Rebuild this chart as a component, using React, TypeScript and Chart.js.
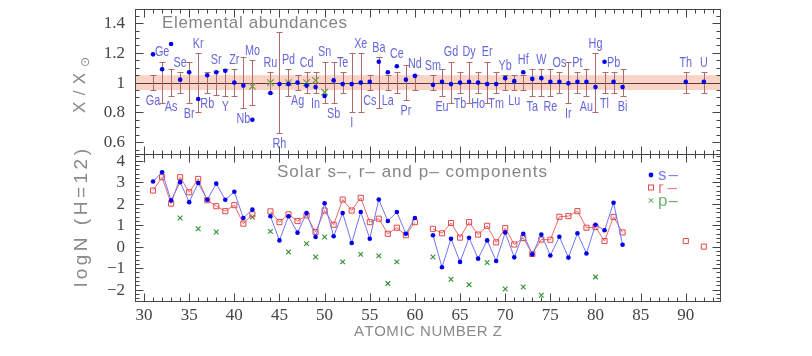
import React, { useEffect, useRef } from 'react';
import { Chart, registerables } from 'chart.js';

Chart.register(...registerables);

// ---------- Top panel: elemental abundances (X / X_sun) ----------
const ELEMENTS = ['Ga','Ge','As','Se','Br','Kr','Rb','Sr','Y','Zr','Nb','Mo','Ru','Rh','Pd','Ag','Cd','In','Sn','Sb','Te','I','Xe','Cs','Ba','La','Ce','Pr','Nd','Sm','Eu','Gd','Tb','Dy','Ho','Er','Tm','Yb','Lu','Hf','Ta','W','Re','Os','Ir','Pt','Au','Hg','Tl','Pb','Bi','Th','U'];
const ELEMENT_Z = [31,32,33,34,35,36,37,38,39,40,41,42,44,45,46,47,48,49,50,51,52,53,54,55,56,57,58,59,60,62,63,64,65,66,67,68,69,70,71,72,73,74,75,76,77,78,79,80,81,82,83,90,92];
const ABUNDANCE_RATIO = [1.19,1.09,1.26,1.02,1.07,0.89,1.05,1.07,1.08,1.0,0.98,0.75,0.93,0.99,0.99,1.0,0.98,0.97,0.91,1.015,0.99,0.99,1.0,1.005,1.14,1.07,1.11,1.02,1.045,0.985,1.005,0.99,1.0,1.005,1.0,0.99,0.99,1.03,1.01,1.07,1.025,1.03,1.005,1.005,0.995,1.005,1.005,0.97,1.14,1.005,0.97,1.005,1.005];
const RATIO_ERROR = [0.05,0.14,0.09,0.07,0.14,0.2,0.07,0.08,0.09,0.09,0.17,0.15,0.07,0.34,0.09,0.05,0.07,0.07,0.14,0.14,0.07,0.2,0.2,0.05,0.17,0.05,0.07,0.12,0.05,0.05,0.09,0.14,0.07,0.14,0.07,0.14,0.07,0.05,0.05,0.05,0.09,0.09,0.09,0.07,0.14,0.07,0.09,0.2,0.07,0.07,0.09,0.07,0.07];
const LABEL_SIDE = ['b','a','b','a','b','a','b','a','b','a','b','a','a','b','a','b','a','b','a','b','a','b','a','b','a','b','a','b','a','a','b','a','b','a','b','a','b','a','b','a','b','a','b','a','b','a','b','a','b','a','b','a','a'];
const ALT_Z = [42,44,46,48,49,50];
const ALT_RATIO = [0.975,1.0,1.0,1.0,1.015,0.935];
const REFERENCE_RATIO = 1.0;
const BAND_LOW = 0.95;
const BAND_HIGH = 1.05;

// ---------- Bottom panel: solar s-, r-, p- components (logN, H=12) ----------
const PROCESS_Z = [31,32,33,34,35,36,37,38,39,40,41,42,43,44,45,46,47,48,49,50,51,52,53,54,55,56,57,58,59,60,61,62,63,64,65,66,67,68,69,70,71,72,73,74,75,76,77,78,79,80,81,82,83,84,90,91,92];
const S_PROCESS = [3.03,3.46,2.15,3.0,2.07,2.96,2.18,2.93,2.18,2.55,1.33,1.72,null,1.41,0.29,1.41,0.65,1.56,0.45,2.02,0.48,1.56,0.17,1.61,0.37,2.19,1.19,1.61,0.6,1.33,null,0.53,-0.96,0.37,-0.71,0.41,-0.56,0.29,-0.67,0.66,-0.5,0.6,-0.36,0.56,-0.41,0.46,-0.51,0.62,-0.32,1.02,0.76,2.04,0.09,null,null,null,null];
const R_PROCESS = [2.61,3.23,2.0,3.23,2.53,3.15,2.16,1.88,1.65,1.93,1.07,1.5,null,1.64,1.14,1.5,1.19,1.45,0.68,1.68,1.02,2.19,1.68,2.27,1.14,1.3,0.6,0.88,0.53,1.14,null,0.83,0.62,1.1,0.42,1.14,0.56,0.97,0.2,0.86,0.1,0.4,-0.34,0.33,0.32,1.39,1.42,1.65,0.88,0.91,0.26,1.38,0.66,null,0.26,null,0.0];
const P_Z = [34,36,38,42,44,46,48,49,50,52,54,56,57,58,62,64,66,68,70,72,74,80];
const P_PROCESS = [1.33,0.83,0.68,1.38,0.71,-0.25,0.14,-0.48,0.45,-0.71,-0.36,-0.43,-1.72,-0.71,-0.48,-1.52,-1.77,-0.74,-1.97,-1.88,-2.26,-1.41];

// ---------- Axes ----------
const X_MIN = 29.0;
const X_MAX = 93.9;
const X_TICK_LABELS = [30,35,40,45,50,55,60,65,70,75,80,85,90];
const TOP_MIN = 0.52;
const TOP_MAX = 1.495;
const TOP_TICK_LABELS = [0.6,0.8,1.0,1.2,1.4];
const BOT_MIN = -2.53;
const BOT_MAX = 4.31;
const BOT_TICK_LABELS = [-2,-1,0,1,2,3,4];

const FRAME = '#444';
const TICK_FONT = '17px "Liberation Serif", "DejaVu Serif", serif';
const TEXT_FONT = '"Liberation Sans", "DejaVu Sans", sans-serif';

function spacedText(ctx: any, text: string, x: number, y: number, target: number, font: string, color: string) {
  ctx.save();
  ctx.font = font;
  ctx.fillStyle = color;
  ctx.textBaseline = 'middle';
  ctx.textAlign = 'left';
  const chars = Array.from(text);
  const widths = chars.map((c) => ctx.measureText(c).width);
  const natural = widths.reduce((a, b) => a + b, 0);
  const extra = chars.length > 1 ? (target - natural) / (chars.length - 1) : 0;
  let cx = x;
  chars.forEach((c, i) => {
    ctx.fillText(c, cx, y);
    cx += widths[i] + extra;
  });
  ctx.restore();
}

function fmtTick(v: number) {
  if (v < 0) return '\u2212' + String(Math.abs(v));
  if (Number.isInteger(v)) return String(v);
  return v.toFixed(1);
}

const panelPlugin = {
  id: 'panels',
  beforeDatasetsDraw(chart: any) {
    const { ctx, chartArea } = chart;
    const xs = chart.scales.x;
    const yt = chart.scales.yTop;
    ctx.save();
    const yHi = yt.getPixelForValue(BAND_HIGH);
    const yLo = yt.getPixelForValue(BAND_LOW);
    ctx.fillStyle = '#f9d3c6';
    ctx.fillRect(chartArea.left, yHi, chartArea.right - chartArea.left, yLo - yHi);
    const yr = Math.round(yt.getPixelForValue(REFERENCE_RATIO)) + 0.5;
    ctx.strokeStyle = '#5a3a3a';
    ctx.lineWidth = 1;
    ctx.beginPath();
    ctx.moveTo(chartArea.left, yr);
    ctx.lineTo(chartArea.right, yr);
    ctx.stroke();
    ctx.strokeStyle = '#b06a6a';
    ELEMENT_Z.forEach((z, i) => {
      const px = Math.round(xs.getPixelForValue(z)) + 0.5;
      const t = Math.round(yt.getPixelForValue(REFERENCE_RATIO + RATIO_ERROR[i])) + 0.5;
      const b = Math.round(yt.getPixelForValue(REFERENCE_RATIO - RATIO_ERROR[i])) + 0.5;
      ctx.beginPath();
      ctx.moveTo(px, t); ctx.lineTo(px, b);
      ctx.moveTo(px - 3, t); ctx.lineTo(px + 3, t);
      ctx.moveTo(px - 3, b); ctx.lineTo(px + 3, b);
      ctx.stroke();
    });
    ctx.restore();
  },
  afterDraw(chart: any) {
    const { ctx, chartArea } = chart;
    const xs = chart.scales.x;
    const yt = chart.scales.yTop;
    const yb = chart.scales.yBot;
    const L = chartArea.left + 0.5;
    const R = chartArea.right - 0.5;
    ctx.save();

    // element labels
    ctx.save();
    ctx.font = '15px ' + TEXT_FONT;
    ctx.fillStyle = '#6666d8';
    ctx.textBaseline = 'middle';
    ctx.textAlign = 'center';
    ELEMENT_Z.forEach((z, i) => {
      const px = xs.getPixelForValue(z);
      const dot = yt.getPixelForValue(ABUNDANCE_RATIO[i]);
      let py;
      if (LABEL_SIDE[i] === 'a') {
        py = Math.min(yt.getPixelForValue(REFERENCE_RATIO + RATIO_ERROR[i]), dot - 3) - 9.5;
      } else {
        py = Math.max(yt.getPixelForValue(REFERENCE_RATIO - RATIO_ERROR[i]), dot + 3) + 10.5;
      }
      ctx.save();
      ctx.translate(px, py);
      ctx.scale(0.72, 1);
      ctx.fillText(ELEMENTS[i], 0, 0);
      ctx.restore();
    });
    ctx.restore();

    // frames
    ctx.strokeStyle = FRAME;
    ctx.lineWidth = 1;
    const panels = [yt, yb];
    panels.forEach((s) => {
      ctx.strokeRect(L, Math.round(s.top) + 0.5, R - L, Math.round(s.bottom) - Math.round(s.top));
    });

    // x ticks on both edges of both panels
    panels.forEach((s) => {
      const top = Math.round(s.top) + 0.5;
      const bot = Math.round(s.bottom) + 0.5;
      for (let z = 30; z <= 93; z++) {
        const px = Math.round(xs.getPixelForValue(z)) + 0.5;
        const len = z % 5 === 0 ? 8 : 4;
        ctx.beginPath();
        ctx.moveTo(px, top); ctx.lineTo(px, top + len);
        ctx.moveTo(px, bot); ctx.lineTo(px, bot - len);
        ctx.stroke();
      }
    });
    // y ticks
    const yTicks = (s: any, lo: number, hi: number, step: number, every: number) => {
      for (let k = lo; k <= hi; k++) {
        const py = Math.round(s.getPixelForValue(k * step)) + 0.5;
        if (py < s.top + 1 || py > s.bottom - 1) continue;
        const len = k % every === 0 ? 8 : 4;
        ctx.beginPath();
        ctx.moveTo(L, py); ctx.lineTo(L + len, py);
        ctx.moveTo(R, py); ctx.lineTo(R - len, py);
        ctx.stroke();
      }
    };
    yTicks(yt, 11, 29, 0.05, 4);
    yTicks(yb, -12, 21, 0.2, 5);

    // tick labels
    ctx.fillStyle = '#444';
    ctx.font = TICK_FONT;
    ctx.textBaseline = 'middle';
    ctx.textAlign = 'center';
    X_TICK_LABELS.forEach((v) => {
      ctx.fillText(String(v), xs.getPixelForValue(v), chartArea.bottom + 15);
    });
    ctx.textAlign = 'right';
    TOP_TICK_LABELS.forEach((v) => {
      ctx.fillText(fmtTick(v), 125, yt.getPixelForValue(v) + 0.5);
    });
    BOT_TICK_LABELS.forEach((v) => {
      ctx.fillText(fmtTick(v), 125, yb.getPixelForValue(v) + 0.5);
    });

    // titles
    spacedText(ctx, 'Elemental abundances', 162, 23, 185, '17px ' + TEXT_FONT, '#858585');
    spacedText(ctx, 'Solar s\u2013, r\u2013 and p\u2013 components', 277, 172, 270, '17px ' + TEXT_FONT, '#858585');
    spacedText(ctx, 'ATOMIC NUMBER Z', 354, 332, 148, '15px ' + TEXT_FONT, '#8a8a8a');

    // y titles (rotated)
    ctx.save();
    ctx.translate(80, 113);
    ctx.rotate(-Math.PI / 2);
    spacedText(ctx, 'X/X', 0, 0, 40, '17px ' + TEXT_FONT, '#8a8a8a');
    ctx.font = '12px "DejaVu Sans", sans-serif';
    ctx.fillStyle = '#8a8a8a';
    ctx.textBaseline = 'middle';
    ctx.textAlign = 'left';
    ctx.fillText('\u2299', 46, 6);
    ctx.restore();

    ctx.save();
    ctx.translate(82, 287);
    ctx.rotate(-Math.PI / 2);
    spacedText(ctx, 'logN (H=12)', 0, 0, 138, '19px ' + TEXT_FONT, '#8a8a8a');
    ctx.restore();

    // legend
    const lx = 651;
    ctx.fillStyle = '#0000ee';
    ctx.beginPath(); ctx.arc(lx, 175, 2.4, 0, Math.PI * 2); ctx.fill();
    ctx.strokeStyle = '#e04848';
    ctx.strokeRect(lx - 2.5, 185, 5, 5);
    ctx.strokeStyle = '#2f8f2f';
    ctx.beginPath();
    ctx.moveTo(lx - 2.2, 198.3); ctx.lineTo(lx + 2.2, 202.7);
    ctx.moveTo(lx + 2.2, 198.3); ctx.lineTo(lx - 2.2, 202.7);
    ctx.stroke();
    spacedText(ctx, 's\u2013', 658, 175, 20, '17px ' + TEXT_FONT, '#7c7cf0');
    spacedText(ctx, 'r\u2013', 658, 188, 19, '17px ' + TEXT_FONT, '#f07c7c');
    spacedText(ctx, 'p\u2013', 658, 201, 20, '17px ' + TEXT_FONT, '#6fb06f');

    ctx.restore();
  },
};

export default function App() {
  const ref = useRef<HTMLCanvasElement | null>(null);
  useEffect(() => {
    if (!ref.current) return;
    const pts = (zs: number[], vs: (number | null)[]) => zs.map((z, i) => ({ x: z, y: vs[i] }));
    const chart = new Chart(ref.current, {
      type: 'scatter',
      data: {
        datasets: [
          {
            label: 'ratio', yAxisID: 'yTop',
            data: pts(ELEMENT_Z, ABUNDANCE_RATIO),
            pointRadius: 2.3, pointBackgroundColor: '#0000ee', pointBorderColor: '#0000ee', pointBorderWidth: 0,
          },
          {
            label: 'alt', yAxisID: 'yTop',
            data: pts(ALT_Z, ALT_RATIO),
            pointStyle: 'crossRot', pointRadius: 4.6, pointBorderColor: '#6e9a48', pointBorderWidth: 1.2,
          },
          {
            label: 's', yAxisID: 'yBot', showLine: true, spanGaps: false,
            data: pts(PROCESS_Z, S_PROCESS),
            borderColor: '#7474f6', borderWidth: 1,
            pointRadius: 2.3, pointBackgroundColor: '#0000ee', pointBorderColor: '#0000ee', pointBorderWidth: 0,
          },
          {
            label: 'r', yAxisID: 'yBot', showLine: true, spanGaps: false,
            data: pts(PROCESS_Z, R_PROCESS),
            borderColor: '#f06868', borderWidth: 1,
            pointStyle: 'rect', pointRadius: 3.6, pointBackgroundColor: 'rgba(255,255,255,0)', pointBorderColor: '#e04848', pointBorderWidth: 1,
          },
          {
            label: 'p', yAxisID: 'yBot',
            data: pts(P_Z, P_PROCESS),
            pointStyle: 'crossRot', pointRadius: 3.3, pointBorderColor: '#2f8f2f', pointBorderWidth: 1.1,
          },
        ],
      },
      options: {
        responsive: false,
        animation: false,
        devicePixelRatio: 1,
        events: [],
        layout: { padding: { left: 135, right: 91, top: 9, bottom: 55 } },
        plugins: { legend: { display: false }, tooltip: { enabled: false } },
        scales: {
          x: { type: 'linear', display: false, min: X_MIN, max: X_MAX },
          yTop: { type: 'linear', display: false, position: 'left', stack: 'panels', stackWeight: 145, weight: 2, min: TOP_MIN, max: TOP_MAX },
          yBot: { type: 'linear', display: false, position: 'left', stack: 'panels', stackWeight: 147, weight: 1, min: BOT_MIN, max: BOT_MAX },
        },
      } as any,
      plugins: [panelPlugin],
    });
    return () => chart.destroy();
  }, []);
  return (
    <div style={{ position: 'fixed', left: 0, top: 0, width: 812, height: 356, background: '#fff' }}>
      <canvas ref={ref} width={812} height={356} style={{ display: 'block' }} />
    </div>
  );
}
